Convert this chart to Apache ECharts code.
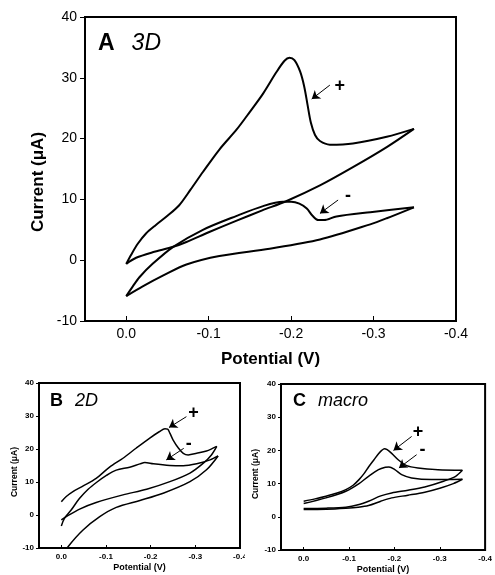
<!DOCTYPE html>
<html><head><meta charset="utf-8">
<script src="https://cdn.jsdelivr.net/npm/echarts@6/dist/echarts.min.js"></script>
<style>html,body{margin:0;padding:0;background:#fff}#c{width:495px;height:575px}</style>
</head><body><div id="c"></div>
<script>
// ---- tick labels ----
const xTickLabels = [0.0, -0.1, -0.2, -0.3, -0.4];
const yTickLabels = [-10, 0, 10, 20, 30, 40];

// ---- Panel A : 3D ---- [potential (V), current (uA)]
const a3dPlusFwd = [[0,-0.6],[-0.006,0.9],[-0.014,2.7],[-0.024,4.4],[-0.036,5.8],[-0.050,7.3],[-0.064,9.0],[-0.078,11.6],[-0.093,14.5],[-0.113,18.2],[-0.134,21.5],[-0.150,24.4],[-0.166,27.4],[-0.182,30.9],[-0.192,32.8],[-0.198,33.3],[-0.204,32.9],[-0.211,31.0],[-0.216,28.5],[-0.220,25.5],[-0.224,22.6],[-0.229,20.6],[-0.235,19.6],[-0.247,19.0],[-0.275,19.2],[-0.316,20.3],[-0.349,21.6]];
const a3dPlusRev = [[-0.349,21.6],[-0.316,18.6],[-0.275,15.3],[-0.235,12.3],[-0.194,9.7],[-0.165,8.2],[-0.134,6.5],[-0.100,4.6],[-0.073,3.0],[-0.057,2.2],[-0.032,1.3],[-0.012,0.4],[0,-0.6]];
const a3dMinusFwd = [[0,-5.9],[-0.008,-4.3],[-0.016,-2.8],[-0.032,-0.6],[-0.057,2.2],[-0.093,5.0],[-0.134,7.3],[-0.166,8.9],[-0.190,9.6],[-0.200,9.6],[-0.210,9.3],[-0.219,8.5],[-0.226,7.3],[-0.233,6.6],[-0.240,6.6],[-0.255,7.2],[-0.296,7.9],[-0.349,8.7]];
const a3dMinusRev = [[-0.349,8.7],[-0.316,6.9],[-0.296,5.9],[-0.235,3.4],[-0.174,1.9],[-0.113,0.7],[-0.073,-0.7],[-0.045,-2.5],[-0.020,-4.3],[0,-5.9]];

// ---- Panel B : 2D ----
const b2dPlusFwd = [[0,4.0],[-0.011,5.6],[-0.026,7.1],[-0.049,8.8],[-0.078,11.1],[-0.108,14.5],[-0.138,17.2],[-0.168,20.3],[-0.198,23.3],[-0.220,25.3],[-0.232,26.1],[-0.238,26.0],[-0.243,24.8],[-0.250,22.8],[-0.262,20.3],[-0.273,18.7],[-0.284,18.2],[-0.303,18.7],[-0.325,19.4],[-0.348,20.8]];
const b2dPlusRev = [[-0.348,20.8],[-0.336,18.2],[-0.318,15.7],[-0.288,12.7],[-0.243,10.1],[-0.191,7.8],[-0.138,6.1],[-0.078,3.8],[-0.041,1.8],[-0.011,-0.5],[0,-1.5]];
const b2dMinusFwd = [[0,-3.3],[-0.007,-1.0],[-0.022,1.5],[-0.040,4.9],[-0.060,7.8],[-0.080,10.0],[-0.101,12.0],[-0.123,13.6],[-0.153,14.5],[-0.176,15.5],[-0.187,15.9],[-0.206,15.5],[-0.243,15.0],[-0.273,14.9],[-0.303,15.5],[-0.333,16.7],[-0.351,17.9]];
const b2dMinusRev = [[-0.351,17.9],[-0.325,13.7],[-0.288,10.1],[-0.228,6.6],[-0.176,4.4],[-0.123,2.3],[-0.086,-0.5],[-0.048,-4.6],[-0.015,-9.6],[-0.005,-12.0]];

// ---- Panel C : macro ----
const cMacPlusFwd = [[0,4.7],[-0.025,5.4],[-0.049,6.2],[-0.072,7.1],[-0.093,8.2],[-0.109,9.5],[-0.122,11.2],[-0.133,13.0],[-0.143,15.0],[-0.155,17.2],[-0.165,19.0],[-0.172,20.0],[-0.178,20.5],[-0.184,20.2],[-0.194,19.1],[-0.209,17.1],[-0.227,15.4],[-0.252,14.7],[-0.296,14.2],[-0.350,14.0]];
const cMacPlusRev = [[-0.350,14.0],[-0.335,12.2],[-0.310,10.8],[-0.267,9.0],[-0.230,8.0],[-0.194,7.2],[-0.170,6.3],[-0.143,4.7],[-0.120,3.6],[-0.093,2.9],[-0.050,2.6],[0,2.5]];
const cMacMinusFwd = [[0,4.0],[-0.049,5.7],[-0.093,7.7],[-0.122,10.0],[-0.143,12.2],[-0.165,14.2],[-0.180,14.9],[-0.188,15.0],[-0.201,14.2],[-0.216,12.7],[-0.238,11.7],[-0.281,11.2],[-0.350,11.3]];
const cMacMinusRev = [[-0.350,11.3],[-0.330,10.0],[-0.300,8.6],[-0.267,7.4],[-0.230,6.5],[-0.194,5.7],[-0.170,4.7],[-0.143,3.4],[-0.120,2.9],[-0.093,2.6],[-0.050,2.3],[0,2.2]];

// ---- annotations (arrow start, arrow end, sign label position) in data units ----
const annA = [{from:[-0.247,28.8],to:[-0.225,26.5],text:'+',at:[-0.259,28.6]},{from:[-0.257,9.9],to:[-0.235,7.7],text:'-',at:[-0.269,10.6]}];
const annB = [{from:[-0.280,29.8],to:[-0.241,26.5],text:'+',at:[-0.296,30.8]},{from:[-0.274,20.2],to:[-0.235,16.7],text:'-',at:[-0.285,21.4]}];
const annC = [{from:[-0.238,24.2],to:[-0.198,20.0],text:'+',at:[-0.252,25.5]},{from:[-0.249,18.7],to:[-0.210,14.7],text:'-',at:[-0.262,20.2]}];

const FONT = '"Liberation Sans", Arial, Helvetica, sans-serif';
const chart = echarts.init(document.getElementById('c'), null, {renderer:'canvas'});

function fmtX(v){
  for (const t of xTickLabels) if (Math.abs(v - t) < 1e-6) return Math.abs(t) < 1e-9 ? '0.0' : t.toFixed(1);
  return '';
}
function fmtY(v){
  for (const t of yTickLabels) if (Math.abs(v - t) < 1e-6) return String(t);
  return '';
}
function xAxisFor(gi, big){
  return {
    type:'value', gridIndex:gi, min:-0.4, max:0.05, interval:0.1, inverse:true,
    axisLine:{show:true, onZero:false, lineStyle:{color:'#000', width:2}},
    axisTick:{show:true, inside:true, length: big?5:3, lineStyle:{color:'#000', width:1}},
    axisLabel:{formatter:fmtX, color:'#000', fontFamily:FONT, fontSize: big?14:8, fontWeight: big?'normal':'bold', margin: big?6:5},
    splitLine:{show:false},
    name:'Potential (V)', nameLocation:'middle', nameGap: big?30:15,
    nameTextStyle:{color:'#000', fontFamily:FONT, fontWeight:'bold', fontSize: big?17:9}
  };
}
function yAxisFor(gi, big){
  return {
    type:'value', gridIndex:gi, min:-10, max:40, interval:10,
    axisLine:{show:true, onZero:false, lineStyle:{color:'#000', width:2}},
    axisTick:{show:true, inside:false, length: big?5:3, lineStyle:{color:'#000', width:1}},
    axisLabel:{formatter:fmtY, color:'#000', fontFamily:FONT, fontSize: big?14:8, fontWeight: big?'normal':'bold', margin: big?8:5},
    splitLine:{show:false}
  };
}
function curve(data, gi, lw){
  return {type:'line', xAxisIndex:gi, yAxisIndex:gi, data:data, symbol:'none', showSymbol:false,
    smooth:0.3, lineStyle:{color:'#000', width:lw}, silent:true, z:3};
}
function annSeries(ann, gi, big){
  return {type:'line', xAxisIndex:gi, yAxisIndex:gi, data:[], silent:true,
    markLine:{silent:true, symbol:['none','arrow'], symbolSize: 8, animation:false,
      lineStyle:{color:'#000', width:1, type:'solid'}, label:{show:false},
      data: ann.map(a => [{coord:a.from},{coord:a.to}])},
    markPoint:{silent:true, animation:false,
      data: ann.map(a => ({coord:a.at, symbol:'circle', symbolSize:1, itemStyle:{color:'rgba(0,0,0,0)'},
        label:{show:true, position:'inside', formatter:a.text, color:'#000', fontFamily:FONT, fontWeight:'bold', fontSize: 18}}))}
  };
}

const option = {
  animation:false,
  backgroundColor:'#fff',
  grid:[
    {left:85, top:17, width:371, height:304, show:true, borderColor:'#000', borderWidth:2, backgroundColor:'transparent'},
    {left:39, top:383, width:201, height:165, show:true, borderColor:'#000', borderWidth:2, backgroundColor:'transparent'},
    {left:281, top:384, width:207, height:167, show:true, borderColor:'#000', borderWidth:2, backgroundColor:'transparent'}
  ],
  xAxis:[xAxisFor(0,true), xAxisFor(1,false), xAxisFor(2,false)],
  yAxis:[yAxisFor(0,true), yAxisFor(1,false), yAxisFor(2,false)],
  title:[
    {text:'{b|A}{i|3D}', left:98, top:32, padding:0, textStyle:{rich:{
      b:{fontFamily:FONT, fontWeight:'bold', fontSize:23, color:'#000'},
      i:{fontFamily:FONT, fontWeight:'normal', fontStyle:'italic', fontSize:23, color:'#000', padding:[0,0,0,17]}}}},
    {text:'{b|B}{i|2D}', left:50, top:392, padding:0, textStyle:{rich:{
      b:{fontFamily:FONT, fontWeight:'bold', fontSize:18, color:'#000'},
      i:{fontFamily:FONT, fontWeight:'normal', fontStyle:'italic', fontSize:18, color:'#000', padding:[0,0,0,12]}}}},
    {text:'{b|C}{i|macro}', left:293, top:392, padding:0, textStyle:{rich:{
      b:{fontFamily:FONT, fontWeight:'bold', fontSize:18, color:'#000'},
      i:{fontFamily:FONT, fontWeight:'normal', fontStyle:'italic', fontSize:18, color:'#000', padding:[0,0,0,12]}}}}
  ],
  graphic:[
    {type:'text', x:38, y:182, rotation:Math.PI/2, style:{text:'Current (\u03bcA)', fill:'#000', font:'bold 17px ' + FONT, align:'center', verticalAlign:'middle'}},
    {type:'text', x:15, y:472, rotation:Math.PI/2, style:{text:'Current (\u03bcA)', fill:'#000', font:'bold 8.5px ' + FONT, align:'center', verticalAlign:'middle'}},
    {type:'text', x:256, y:474, rotation:Math.PI/2, style:{text:'Current (\u03bcA)', fill:'#000', font:'bold 8.5px ' + FONT, align:'center', verticalAlign:'middle'}},
    {type:'rect', shape:{x:245, y:551, width:6, height:13}, style:{fill:'#fff'}, z:100}
  ],
  series:[
    curve(a3dPlusFwd,0,2), curve(a3dPlusRev,0,2), curve(a3dMinusFwd,0,2), curve(a3dMinusRev,0,2),
    curve(b2dPlusFwd,1,1.5), curve(b2dPlusRev,1,1.5), curve(b2dMinusFwd,1,1.5), curve(b2dMinusRev,1,1.5),
    curve(cMacPlusFwd,2,1.5), curve(cMacPlusRev,2,1.5), curve(cMacMinusFwd,2,1.5), curve(cMacMinusRev,2,1.5),
    annSeries(annA,0,true), annSeries(annB,1,false), annSeries(annC,2,false)
  ]
};
chart.setOption(option);
</script></body></html>
